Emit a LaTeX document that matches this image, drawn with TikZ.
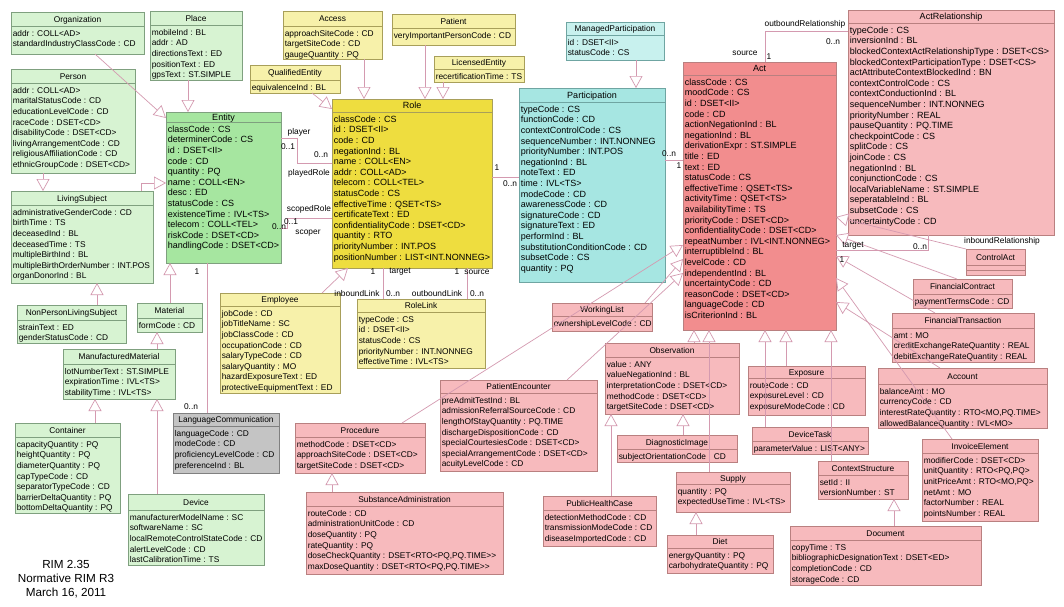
\documentclass[tikz,border=0pt]{standalone}
\usepackage{fontspec}
\setmainfont{Liberation Sans}
\usetikzlibrary{arrows.meta}
\definecolor{gfill}{HTML}{D7F3D2}
\definecolor{gbfill}{HTML}{A6E6A0}
\definecolor{gedge}{HTML}{7FA07F}
\definecolor{yfill}{HTML}{F7F1AA}
\definecolor{ybfill}{HTML}{EEDD3F}
\definecolor{yedge}{HTML}{A89F5A}
\definecolor{cfill}{HTML}{C8F1EE}
\definecolor{cbfill}{HTML}{A6E6E2}
\definecolor{cedge}{HTML}{6FA5A2}
\definecolor{rfill}{HTML}{F7BABD}
\definecolor{rbfill}{HTML}{F28D8E}
\definecolor{redge}{HTML}{B98080}
\definecolor{kfill}{HTML}{C4C4C4}
\definecolor{kedge}{HTML}{808080}
\definecolor{conn}{HTML}{D49AB0}
\newcommand{\smallfont}{\fontsize{8.35}{10.6}\selectfont}
\newcommand{\bigfont}{\fontsize{9.0}{10.6}\selectfont}
\tikzset{
 box/.style={line width=0.6pt, inner sep=0pt, outer sep=0pt},
 G/.style={box, draw=gedge, fill=gfill}, Gline/.style={draw=gedge, line width=0.6pt}, Gt/.style={font=\smallfont},
 GB/.style={box, draw=gedge, fill=gbfill}, GBline/.style={Gline}, GBt/.style={font=\bigfont},
 Y/.style={box, draw=yedge, fill=yfill}, Yline/.style={draw=yedge, line width=0.6pt}, Yt/.style={font=\smallfont},
 YB/.style={box, draw=yedge, fill=ybfill}, YBline/.style={Yline}, YBt/.style={font=\bigfont},
 C/.style={box, draw=cedge, fill=cfill}, Cline/.style={draw=cedge, line width=0.6pt}, Ct/.style={font=\smallfont},
 CB/.style={box, draw=cedge, fill=cbfill}, CBline/.style={Cline}, CBt/.style={font=\bigfont},
 R/.style={box, draw=redge, fill=rfill}, Rline/.style={draw=redge, line width=0.6pt}, Rt/.style={font=\smallfont},
 RB/.style={box, draw=redge, fill=rbfill}, RBline/.style={Rline}, RBt/.style={font=\bigfont},
 RL/.style={box, draw=redge, fill=rfill}, RLline/.style={Rline}, RLt/.style={font=\bigfont},
 K/.style={box, draw=kedge, fill=kfill}, Kline/.style={draw=kedge, line width=0.6pt}, Kt/.style={font=\smallfont},
 gen/.style={draw=conn, line width=0.7pt, -{Triangle[length=12pt, width=13pt, fill=white, line width=0.7pt]}},
 assoc/.style={draw=conn, line width=0.7pt},
 lbl/.style={font=\smallfont, inner sep=0pt},
 note/.style={font=\fontsize{11.7}{14}\selectfont, align=center, inner sep=0pt}
}
% name, x, y, w, h, title band, style, title, body
\newcommand{\umlbox}[9]{%
 \node[#7, minimum width=#4pt, minimum height=#5pt, anchor=north west] (#1) at (#2,#3) {};
 \draw[#7line] ([yshift=-#6pt]#1.north west) -- ([yshift=-#6pt]#1.north east);
 \node[#7t, anchor=base, inner sep=0pt] (#1-t) at ([yshift=-#6pt*0.5-3pt]#1.north) {#8};
 \node[#7t, anchor=north west, inner sep=0pt, align=left] (#1-b) at ([xshift=1.6pt,yshift=-#6pt-3pt]#1.north west) {\rule{0pt}{7pt}#9};
}
\begin{document}
\begin{tikzpicture}[x=1pt, y=-1pt]
\fill[white] (0,0) rectangle (1064,606);
\useasboundingbox (0,0) rectangle (1064,606);

% ---------- Entity family ----------
\umlbox{Organization}{11}{12}{133}{42}{14}{G}{Organization}{addr : COLL<AD>\\standardIndustryClassCode : CD}
\umlbox{Place}{150}{11}{92}{69}{14}{G}{Place}{mobileInd : BL\\addr : AD\\directionsText : ED\\positionText : ED\\gpsText : ST.SIMPLE}
\umlbox{Person}{11}{69}{124}{104}{14}{G}{Person}{addr : COLL<AD>\\maritalStatusCode : CD\\educationLevelCode : CD\\raceCode : DSET<CD>\\disabilityCode : DSET<CD>\\livingArrangementCode : CD\\religiousAffiliationCode : CD\\ethnicGroupCode : DSET<CD>}
\umlbox{Entity}{166}{112}{115}{151}{10}{GB}{Entity}{classCode : CS\\determinerCode : CS\\id : DSET<II>\\code : CD\\quantity : PQ\\name : COLL<EN>\\desc : ED\\statusCode : CS\\existenceTime : IVL<TS>\\telecom : COLL<TEL>\\riskCode : DSET<CD>\\handlingCode : DSET<CD>}
\umlbox{LivingSubject}{11}{191}{142}{92}{14}{G}{LivingSubject}{administrativeGenderCode : CD\\birthTime : TS\\deceasedInd : BL\\deceasedTime : TS\\multipleBirthInd : BL\\multipleBirthOrderNumber : INT.POS\\organDonorInd : BL}
\umlbox{NonPersonLivingSubject}{17}{305}{109}{38}{15}{G}{NonPersonLivingSubject}{strainText : ED\\genderStatusCode : CD}
\umlbox{Material}{137}{303}{65}{29}{15}{G}{Material}{formCode : CD}
\umlbox{ManufacturedMaterial}{63}{349}{112}{50}{15}{G}{ManufacturedMaterial}{lotNumberText : ST.SIMPLE\\expirationTime : IVL<TS>\\stabilityTime : IVL<TS>}
\umlbox{Container}{15}{423}{105}{90}{14}{G}{Container}{capacityQuantity : PQ\\heightQuantity : PQ\\diameterQuantity : PQ\\capTypeCode : CD\\separatorTypeCode : CD\\barrierDeltaQuantity : PQ\\bottomDeltaQuantity : PQ}
\umlbox{Device}{128}{494}{136}{71}{16}{G}{Device}{manufacturerModelName : SC\\softwareName : SC\\localRemoteControlStateCode : CD\\alertLevelCode : CD\\lastCalibrationTime : TS}
\umlbox{LanguageCommunication}{173}{413}{106}{60}{13}{K}{LanguageCommunication}{languageCode : CD\\modeCode : CD\\proficiencyLevelCode : CD\\preferenceInd : BL}

% ---------- Role family ----------
\umlbox{Access}{283}{11}{99}{48}{15}{Y}{Access}{approachSiteCode : CD\\targetSiteCode : CD\\gaugeQuantity : PQ}
\umlbox{Patient}{392}{14}{123}{31}{14}{Y}{Patient}{veryImportantPersonCode : CD}
\umlbox{LicensedEntity}{434}{56}{90}{26}{13}{Y}{LicensedEntity}{recertificationTime : TS}
\umlbox{QualifiedEntity}{250}{65}{90}{28}{15}{Y}{QualifiedEntity}{equivalenceInd : BL}
\umlbox{Role}{332}{99}{160}{169}{13}{YB}{Role}{classCode : CS\\id : DSET<II>\\code : CD\\negationInd : BL\\name : COLL<EN>\\addr : COLL<AD>\\telecom : COLL<TEL>\\statusCode : CS\\effectiveTime : QSET<TS>\\certificateText : ED\\confidentialityCode : DSET<CD>\\quantity : RTO\\priorityNumber : INT.POS\\positionNumber : LIST<INT.NONNEG>}
\umlbox{RoleLink}{357}{299}{128}{69}{13}{Y}{RoleLink}{typeCode : CS\\id : DSET<II>\\statusCode : CS\\priorityNumber : INT.NONNEG\\effectiveTime : IVL<TS>}
\umlbox{Employee}{220}{293}{120}{100}{13}{Y}{Employee}{jobCode : CD\\jobTitleName : SC\\jobClassCode : CD\\occupationCode : CD\\salaryTypeCode : CD\\salaryQuantity : MO\\hazardExposureText : ED\\protectiveEquipmentText : ED}

% ---------- Participation family ----------
\umlbox{ManagedParticipation}{566}{22}{98}{38}{13}{C}{ManagedParticipation}{id : DSET<II>\\statusCode : CS}
\umlbox{Participation}{519}{88}{146}{194}{14}{CB}{Participation}{typeCode : CS\\functionCode : CD\\contextControlCode : CS\\sequenceNumber : INT.NONNEG\\priorityNumber : INT.POS\\negationInd : BL\\noteText : ED\\time : IVL<TS>\\modeCode : CD\\awarenessCode : CD\\signatureCode : CD\\signatureText : ED\\performInd : BL\\substitutionConditionCode : CD\\subsetCode : CS\\quantity : PQ}

% ---------- Act family ----------
\umlbox{Act}{683}{62}{153}{268}{13}{RB}{Act}{classCode : CS\\moodCode : CS\\id : DSET<II>\\code : CD\\actionNegationInd : BL\\negationInd : BL\\derivationExpr : ST.SIMPLE\\title : ED\\text : ED\\statusCode : CS\\effectiveTime : QSET<TS>\\activityTime : QSET<TS>\\availabilityTime : TS\\priorityCode : DSET<CD>\\confidentialityCode : DSET<CD>\\repeatNumber : IVL<INT.NONNEG>\\interruptibleInd : BL\\levelCode : CD\\independentInd : BL\\uncertaintyCode : CD\\reasonCode : DSET<CD>\\languageCode : CD\\isCriterionInd : BL}
\umlbox{ActRelationship}{848}{10}{206}{225}{13}{RL}{ActRelationship}{typeCode : CS\\inversionInd : BL\\blockedContextActRelationshipType : DSET<CS>\\blockedContextParticipationType : DSET<CS>\\actAttributeContextBlockedInd : BN\\contextControlCode : CS\\contextConductionInd : BL\\sequenceNumber : INT.NONNEG\\priorityNumber : REAL\\pauseQuantity : PQ.TIME\\checkpointCode : CS\\splitCode : CS\\joinCode : CS\\negationInd : BL\\conjunctionCode : CS\\localVariableName : ST.SIMPLE\\seperatableInd : BL\\subsetCode : CS\\uncertaintyCode : CD}
\umlbox{ControlAct}{966}{249}{59}{26}{16}{R}{ControlAct}{}
\draw[Rline] ([yshift=-21pt]ControlAct.north west) -- ([yshift=-21pt]ControlAct.north east);
\umlbox{FinancialContract}{913}{279}{99}{29}{15}{R}{FinancialContract}{paymentTermsCode : CD}
\umlbox{FinancialTransaction}{892}{313}{142}{49}{15}{R}{FinancialTransaction}{amt : MO\\creditExchangeRateQuantity : REAL\\debitExchangeRateQuantity : REAL}
\umlbox{Account}{878}{368}{169}{60}{16}{R}{Account}{balanceAmt : MO\\currencyCode : CD\\interestRateQuantity : RTO<MO,PQ.TIME>\\allowedBalanceQuantity : IVL<MO>}
\umlbox{InvoiceElement}{922}{439}{116}{82}{14}{R}{InvoiceElement}{modifierCode : DSET<CD>\\unitQuantity : RTO<PQ,PQ>\\unitPriceAmt : RTO<MO,PQ>\\netAmt : MO\\factorNumber : REAL\\pointsNumber : REAL}
\umlbox{Exposure}{748}{366}{117}{49}{12}{R}{Exposure}{routeCode : CD\\exposureLevel : CD\\exposureModeCode : CD}
\umlbox{DeviceTask}{752}{427}{116}{27}{14}{R}{DeviceTask}{parameterValue : LIST<ANY>}
\umlbox{WorkingList}{552}{303}{100}{28}{13}{R}{WorkingList}{ownershipLevelCode : CD}
\umlbox{Observation}{605}{343}{134}{71}{14}{R}{Observation}{value : ANY\\valueNegationInd : BL\\interpretationCode : DSET<CD>\\methodCode : DSET<CD>\\targetSiteCode : DSET<CD>}
\umlbox{PatientEncounter}{440}{380}{157}{91}{13}{R}{PatientEncounter}{preAdmitTestInd : BL\\admissionReferralSourceCode : CD\\lengthOfStayQuantity : PQ.TIME\\dischargeDispositionCode : CD\\specialCourtesiesCode : DSET<CD>\\specialArrangementCode : DSET<CD>\\acuityLevelCode : CD}
\umlbox{Procedure}{295}{423}{130}{50}{14}{R}{Procedure}{methodCode : DSET<CD>\\approachSiteCode : DSET<CD>\\targetSiteCode : DSET<CD>}
\umlbox{SubstanceAdministration}{306}{492}{197}{82}{14}{R}{SubstanceAdministration}{routeCode : CD\\administrationUnitCode : CD\\doseQuantity : PQ\\rateQuantity : PQ\\doseCheckQuantity : DSET<RTO<PQ,PQ.TIME>{}>\\maxDoseQuantity : DSET<RTO<PQ,PQ.TIME>{}>}
\umlbox{DiagnosticImage}{617}{435}{120}{27}{14}{R}{DiagnosticImage}{subjectOrientationCode : CD}
\umlbox{PublicHealthCase}{543}{496}{113}{50}{14}{R}{PublicHealthCase}{detectionMethodCode : CD\\transmissionModeCode : CD\\diseaseImportedCode : CD}
\umlbox{Supply}{676}{472}{114}{40}{12}{R}{Supply}{quantity : PQ\\expectedUseTime : IVL<TS>}
\umlbox{Diet}{667}{535}{106}{38}{13}{R}{Diet}{energyQuantity : PQ\\carbohydrateQuantity : PQ}
\umlbox{ContextStructure}{818}{461}{90}{38}{14}{R}{ContextStructure}{setId : II\\versionNumber : ST}
\umlbox{Document}{790}{526}{191}{59}{14}{R}{Document}{copyTime : TS\\bibliographicDesignationText : DSET<ED>\\completionCode : CD\\storageCode : CD}

% ---------- generalizations ----------
\draw[gen] (188,0 |- Place.south) -- (188,0 |- Entity.north);
\draw[gen] (95,0 |- Organization.south) -- (Entity.west |- 0,118);
\draw[gen] (43,0 |- Person.south) -- (43,0 |- LivingSubject.north);
\draw[gen] (141,0 |- LivingSubject.north) |- (Entity.west |- 0,183);
\draw[gen] (97,0 |- NonPersonLivingSubject.north) -- (97,0 |- LivingSubject.south);
\draw[gen] (170,0 |- Material.north) -- (170,0 |- Entity.south);
\draw[gen] (157,0 |- ManufacturedMaterial.north) -- (157,0 |- Material.south);
\draw[gen] (95,0 |- Container.north) -- (95,0 |- ManufacturedMaterial.south);
\draw[gen] (157,0 |- Device.north) -- (157,0 |- ManufacturedMaterial.south);
\draw[gen] (364,0 |- Access.south) -- (364,0 |- Role.north);
\draw[gen] (425,0 |- Patient.south) -- (425,0 |- Role.north);
\draw[gen] (443,0 |- LicensedEntity.south) -- (443,0 |- Role.north);
\draw[gen] (312,0 |- QualifiedEntity.south) -- (Role.west |- 0,109);
\draw[gen] (322,0 |- Employee.north) -- (348,0 |- Role.south);
\draw[gen] (636,0 |- ManagedParticipation.south) -- (636,0 |- Participation.north);
\draw[gen] (ControlAct.north west) -- (Act.east |- 0,217);
\draw[gen] (957,0 |- FinancialContract.north) -- (Act.east |- 0,235);
\draw[gen] (935,0 |- FinancialTransaction.north) -- (Act.east |- 0,256);
\draw[gen] (940,0 |- Account.north) -- (Act.east |- 0,302);
\draw[gen] (952,0 |- InvoiceElement.north) -- (Act.east |- 0,278);
\draw[gen] (786,0 |- Exposure.north) -- (786,0 |- Act.south);
\draw[gen] (765,0 |- DeviceTask.north) -- (765,0 |- Act.south);
\draw[gen] (831,0 |- ContextStructure.north) -- (831,0 |- Act.south);
\draw[gen] (694,0 |- Observation.north) -- (694,0 |- Act.south);
\draw[gen] (709,0 |- Supply.north) -- (709,0 |- Act.south);
\draw[gen] (894,0 |- Document.north) -- (894,0 |- ContextStructure.south);
\draw[gen] (696,0 |- Diet.north) -- (696,0 |- Supply.south);
\draw[gen] (683,0 |- DiagnosticImage.north) -- (683,0 |- Observation.south);
\draw[gen] (611,0 |- PublicHealthCase.north) -- (611,0 |- Observation.south);
\draw[gen] (332,0 |- SubstanceAdministration.north) -- (332,0 |- Procedure.south);
\draw[gen] (402,0 |- Procedure.north) -- (Act.west |- 0,245);
\draw[gen] (567,0 |- PatientEncounter.north) -- (Act.west |- 0,273);
\draw[gen] (645,0 |- WorkingList.north) -- (Act.west |- 0,259);

% ---------- associations ----------
\draw[assoc] (207,0 |- Entity.south) -- (207,0 |- LanguageCommunication.north);
\draw[assoc] (Entity.east |- 0,138) -- (297,138) |- (Role.west |- 0,163);
\draw[assoc] (Entity.east |- 0,228) -- (287,228) |- (Role.west |- 0,218);
\draw[assoc] (383,0 |- Role.south) -- (383,0 |- RoleLink.north);
\draw[assoc] (467,0 |- Role.south) -- (467,0 |- RoleLink.north);
\draw[assoc] (Role.east |- 0,177) -- (Participation.west |- 0,177);
\draw[assoc] (Participation.east |- 0,160) -- (Act.west |- 0,160);
\draw[assoc] (765,0 |- Act.north) |- (ActRelationship.west |- 0,31);
\draw[assoc] (Act.east |- 0,250) -| (928,0 |- ActRelationship.south);

% ---------- labels ----------
\node[lbl] (m1) at (197,272) {1};
\node[lbl] (m2) at (191,407) {0..n};
\node[lbl] (r1) at (299,132) {player};
\node[lbl] (m3) at (288,147) {0..1};
\node[lbl] (m4) at (321,155) {0..n};
\node[lbl] (r2) at (309,173) {playedRole};
\node[lbl] (r3) at (309,209) {scopedRole};
\node[lbl] (m5) at (291,222) {0..1};
\node[lbl] (m6) at (279,227) {0..n};
\node[lbl] (r4) at (308,233) {scoper};
\node[lbl] (m7) at (373,272) {1};
\node[lbl] (r5) at (400,272) {target};
\node[lbl] (r6) at (357,294) {inboundLink};
\node[lbl] (m8) at (393,294) {0..n};
\node[lbl] (m9) at (457,272) {1};
\node[lbl] (r7) at (477,272) {source};
\node[lbl] (r8) at (437,294) {outboundLink};
\node[lbl] (m10) at (477,294) {0..n};
\node[lbl] (m11) at (497,168) {1};
\node[lbl] (m12) at (510,184) {0..n};
\node[lbl] (m13) at (669,154) {0..n};
\node[lbl] (m14) at (679,166) {1};
\node[lbl] (r9) at (745,53) {source};
\node[lbl] (m15) at (769,57) {1};
\node[lbl] (r10) at (805,24) {outboundRelationship};
\node[lbl] (m16) at (833,42) {0..n};
\node[lbl] (r11) at (853,246) {target};
\node[lbl] (m17) at (842,260) {1};
\node[lbl] (m18) at (920,247) {0..n};
\node[lbl] (r12) at (1002,241) {inboundRelationship};

\node[note] (ver) at (66,579) {RIM 2.35\\Normative RIM R3\\March 16, 2011};
\end{tikzpicture}
\end{document}
